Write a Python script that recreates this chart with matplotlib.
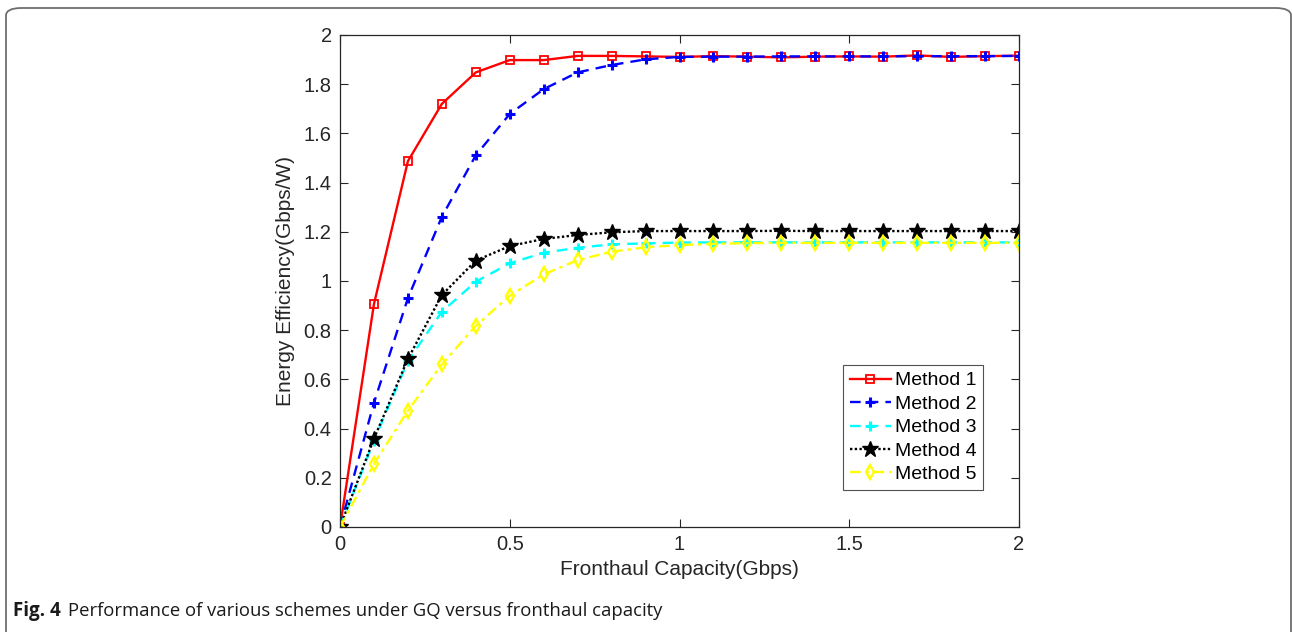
import matplotlib
matplotlib.use("Agg")
import matplotlib.pyplot as plt
from matplotlib.patches import FancyBboxPatch

x = [0, 0.1, 0.2, 0.3, 0.4, 0.5, 0.6, 0.7, 0.8, 0.9, 1.0,
     1.1, 1.2, 1.3, 1.4, 1.5, 1.6, 1.7, 1.8, 1.9, 2.0]

method1 = [0, 0.906, 1.487, 1.72, 1.848, 1.898, 1.898, 1.915, 1.915, 1.913, 1.911,
           1.914, 1.912, 1.909, 1.912, 1.913, 1.912, 1.917, 1.911, 1.914, 1.916]
method2 = [0, 0.505, 0.93, 1.261, 1.511, 1.679, 1.780, 1.848, 1.878, 1.901, 1.911,
           1.912, 1.912, 1.913, 1.913, 1.913, 1.913, 1.914, 1.914, 1.914, 1.915]
method3 = [0, 0.35, 0.675, 0.875, 0.997, 1.072, 1.115, 1.135, 1.149, 1.153, 1.156,
           1.157, 1.157, 1.157, 1.157, 1.157, 1.157, 1.157, 1.157, 1.157, 1.157]
method4 = [0, 0.359, 0.683, 0.943, 1.083, 1.142, 1.171, 1.187, 1.198, 1.203, 1.203,
           1.203, 1.203, 1.204, 1.203, 1.203, 1.203, 1.203, 1.203, 1.203, 1.203]
method5 = [0, 0.256, 0.473, 0.661, 0.818, 0.94, 1.027, 1.085, 1.119, 1.137, 1.146,
           1.151, 1.154, 1.155, 1.155, 1.155, 1.155, 1.155, 1.155, 1.155, 1.155]

labels = ["Method 1", "Method 2", "Method 3", "Method 4", "Method 5"]
xticks = [0, 0.5, 1, 1.5, 2]
xticklabels = ["0", "0.5", "1", "1.5", "2"]
yticks = [0, 0.2, 0.4, 0.6, 0.8, 1.0, 1.2, 1.4, 1.6, 1.8, 2.0]
yticklabels = ["0", "0.2", "0.4", "0.6", "0.8", "1", "1.2", "1.4", "1.6", "1.8", "2"]

plt.rcParams['font.family'] = ['Liberation Sans', 'DejaVu Sans']

W, H = 1292, 632
fig = plt.figure(figsize=(W / 100, H / 100), dpi=100)

# outer frame
frame = FancyBboxPatch((6 / W, -0.05), (1291 - 6) / W, (H - 8) / H + 0.05,
                       boxstyle="round,pad=0,rounding_size=0.012",
                       transform=fig.transFigure, fill=False,
                       edgecolor="#6e6e6e", linewidth=1.3, clip_on=False)
fig.patches.append(frame)

ax = fig.add_axes([340 / W, 1 - 527 / H, (1019 - 340) / W, (527 - 35) / H])

lw = 1.7
ax.plot(x, method1, color="red", linestyle="-", marker="s", markersize=6,
        markerfacecolor="none", markeredgewidth=1.3, linewidth=lw, label=labels[0])
ax.plot(x, method2, color="blue", linestyle=(0, (4.5, 3)), marker="+", markersize=7,
        markeredgewidth=2.2, linewidth=lw, label=labels[1])
ax.plot(x, method3, color="cyan", linestyle=(0, (4.5, 3)), marker="+", markersize=7,
        markeredgewidth=2.2, linewidth=lw, label=labels[2])
ax.plot(x, method4, color="black", linestyle=(0, (1, 1)), marker="*", markersize=12,
        linewidth=lw, label=labels[3])
ax.plot(x, method5, color="yellow", linestyle=(0, (4.5, 2, 1.5, 2)), marker="d", markersize=7,
        markerfacecolor="none", markeredgewidth=1.7, linewidth=lw, label=labels[4])

ax.set_xlim(0, 2)
ax.set_ylim(0, 2)
ax.set_xticks(xticks)
ax.set_xticklabels(xticklabels)
ax.set_yticks(yticks)
ax.set_yticklabels(yticklabels)
ax.tick_params(direction="in", top=True, right=True, labelsize=14.5,
               length=6, width=0.8, colors="#262626", pad=6)
for s in ax.spines.values():
    s.set_linewidth(0.9)
    s.set_color("#262626")

ax.set_xlabel("Fronthaul Capacity(Gbps)", fontsize=15, color="#262626", labelpad=4)
ax.set_ylabel("Energy Efficiency(Gbps/W)", fontsize=15, color="#262626", labelpad=6)

leg = ax.legend(loc="lower right", bbox_to_anchor=((983 - 340) / (1019 - 340), (527 - 490) / (527 - 35)),
                fontsize=14, frameon=True, fancybox=False, edgecolor="#262626",
                handlelength=2.1, handletextpad=0.2, borderpad=0.35, labelspacing=0.3,
                borderaxespad=0)
leg.get_frame().set_linewidth(0.8)

fig.text(13 / W, 1 - 611 / H, "Fig. 4", fontsize=13.5, fontweight="bold",
         family=["Open Sans", "DejaVu Sans"], va="center", ha="left", color="#1a1a1a")
fig.text(68 / W, 1 - 611 / H, "Performance of various schemes under GQ versus fronthaul capacity",
         fontsize=13.3, family=["Open Sans", "DejaVu Sans"], va="center", ha="left", color="#1a1a1a")

fig.savefig("out.png", dpi=100)
